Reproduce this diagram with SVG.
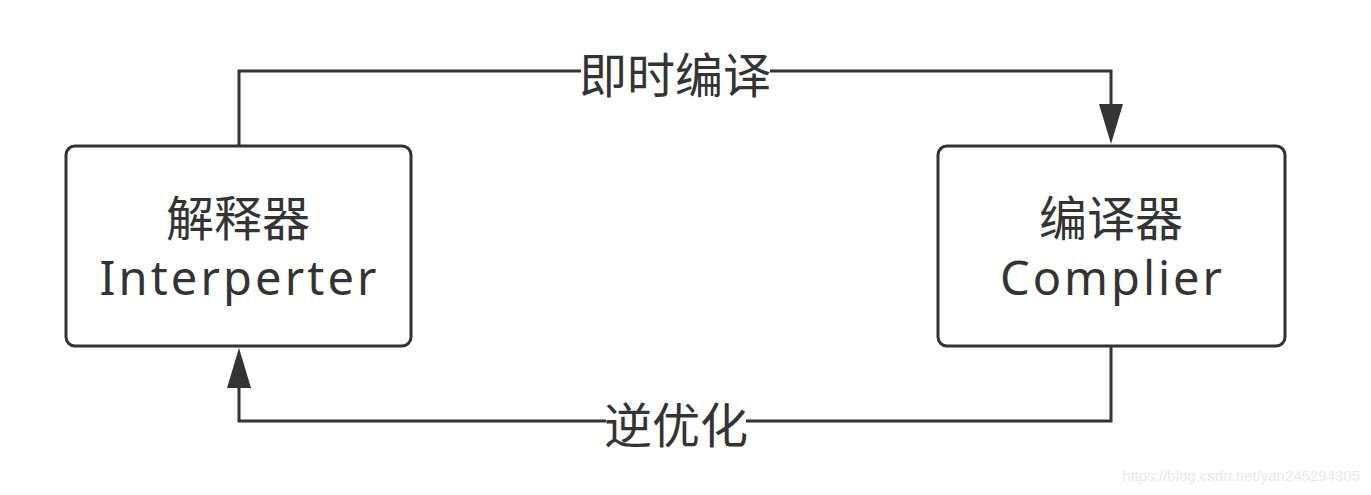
<svg xmlns="http://www.w3.org/2000/svg" width="1371" height="495" viewBox="0 0 1371 495">
  <style>
    .box { fill: #ffffff; stroke: #333333; stroke-width: 3; }
    .edge { fill: none; stroke: #333333; stroke-width: 3; }
    .head { fill: #333333; }
    .cjk { font-family: "Noto Sans CJK SC", "Noto Sans", sans-serif; font-size: 48px; fill: #333333; text-anchor: middle; }
    .lat { font-family: "Noto Sans", "Noto Sans CJK SC", sans-serif; font-size: 47px; fill: #333333; text-anchor: middle; }
    .lbl { fill: #ffffff; stroke: none; }
    .wm { font-family: "Liberation Sans", sans-serif; font-size: 15px; fill: #e8e8e8; text-anchor: end; }
  </style>
  <rect width="1371" height="495" fill="#ffffff"/>
  <g id="connectors">
    <path class="edge" d="M239,146 L239,71 L1111,71 L1111,108" />
    <path class="head" d="M1111,144 L1099,104 L1123,104 Z"/>
    <path class="edge" d="M1111,346 L1111,421 L239,421 L239,384" />
    <path class="head" d="M239,348 L227,388 L251,388 Z"/>
    <rect class="lbl" x="581" y="60" width="189" height="22"/>
    <text class="cjk" x="675" y="93">即时编译</text>
    <rect class="lbl" x="606" y="410" width="140" height="22"/>
    <text class="cjk" x="676" y="443">逆优化</text>
  </g>
  <g id="interpreter">
    <rect class="box" x="66" y="146" width="345" height="200" rx="9" ry="9"/>
    <text class="cjk" x="238" y="236">解释器</text>
    <text class="lat" x="238" y="295" textLength="277" lengthAdjust="spacing">Interperter</text>
  </g>
  <g id="compiler">
    <rect class="box" x="938" y="146" width="347" height="200" rx="9" ry="9"/>
    <text class="cjk" x="1111" y="236">编译器</text>
    <text class="lat" x="1111" y="295" textLength="222" lengthAdjust="spacing">Complier</text>
  </g>
  <text class="wm" x="1360" y="481">https://blog.csdn.net/yan245294305</text>
</svg>
